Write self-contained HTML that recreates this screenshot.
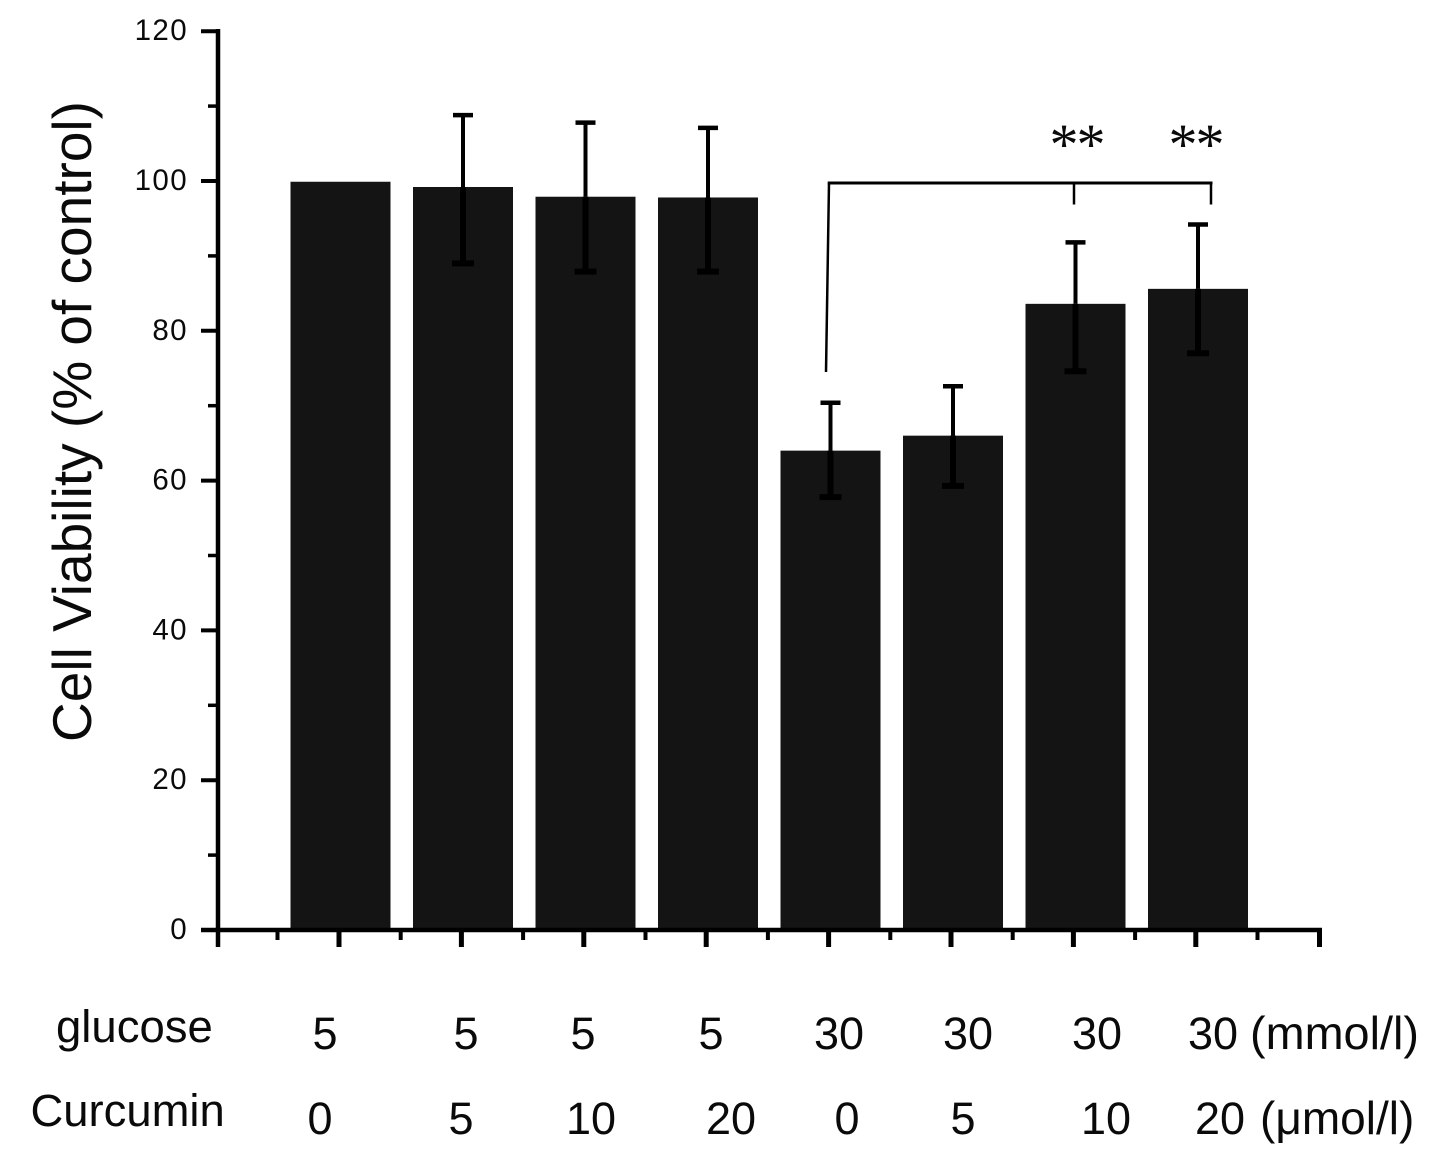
<!DOCTYPE html>
<html>
<head>
<meta charset="utf-8">
<style>
html,body{margin:0;padding:0;background:#fff;}
svg{display:block;}
text{font-family:"Liberation Sans",sans-serif;fill:#0a0a0a;}
</style>
</head>
<body>
<svg id="chart" width="1441" height="1160" viewBox="0 0 1441 1160" xmlns="http://www.w3.org/2000/svg">
<text transform="translate(91,421.5) rotate(-90)" text-anchor="middle" font-size="55">Cell Viability (% of control)</text>

<text x="56" y="1042" font-size="45.5">glucose</text>
<text x="30.5" y="1126" font-size="45.4">Curcumin</text>

<g font-size="45" text-anchor="middle">
<text x="325" y="1049">5</text>
<text x="466" y="1049">5</text>
<text x="583" y="1049">5</text>
<text x="711" y="1049">5</text>
<text x="839" y="1049">30</text>
<text x="968" y="1049">30</text>
<text x="1097" y="1049">30</text>
<text x="1213" y="1049">30</text>
</g>
<g font-size="45" text-anchor="middle">
<text x="320" y="1134">0</text>
<text x="461" y="1134">5</text>
<text x="591" y="1134">10</text>
<text x="731" y="1134">20</text>
<text x="847" y="1134">0</text>
<text x="963" y="1134">5</text>
<text x="1106" y="1134">10</text>
<text x="1220" y="1134">20</text>
</g>
<text x="1250" y="1049" font-size="46.8">(mmol/l)</text>
<text x="1260" y="1134" font-size="46">(μmol/l)</text>

<text x="1076.5" y="164" text-anchor="middle" font-size="58" letter-spacing="-2" style="font-family:'Liberation Serif',serif">**</text>
<text x="1195.5" y="164" text-anchor="middle" font-size="58" letter-spacing="-2" style="font-family:'Liberation Serif',serif">**</text>
</svg>
<script>
var categories = ['5/0', '5/5', '5/10', '5/20', '30/0', '30/5', '30/10', '30/20'];
var viability = [99.9, 99.2, 97.9, 97.8, 64, 66, 83.6, 85.6];
var errorHigh = [null, 108.8, 107.8, 107.1, 70.4, 72.6, 91.8, 94.2];
var errorLow = [null, 89, 87.9, 87.9, 57.8, 59.3, 74.6, 77];
var yTicks = [0, 20, 40, 60, 80, 100, 120];
var yMinorTicks = [10, 30, 50, 70, 90, 110];

var svg = document.getElementById('chart');
var NS = 'http://www.w3.org/2000/svg';
var barW = 100;

function yScale(v) { return 930 - v * 7.49; }
function xScale(i) { return 340.5 + i * 122.5; }
function tickPos(i) { return 339 + i * 122.4; }
function add(tag, attrs) {
  var el = document.createElementNS(NS, tag);
  for (var k in attrs) { el.setAttribute(k, attrs[k]); }
  svg.appendChild(el);
  return el;
}
function line(x1, y1, x2, y2, w, color) {
  return add('line', {x1: x1, y1: y1, x2: x2, y2: y2, stroke: color || '#000', 'stroke-width': w});
}

viability.forEach(function (v, i) {
  var cx = xScale(i);
  var bar = add('rect', {x: cx - barW / 2, y: yScale(v), width: barW, height: yScale(0) - yScale(v), fill: '#141414'});
  
  
  if (errorHigh[i] !== null) {
    var top = yScale(errorHigh[i]);
    var bottom = yScale(errorLow[i]);
    var stemUp = line(cx, top, cx, yScale(v), 4);
    
    
    var stemDown = line(cx, yScale(v), cx, bottom, 6);
    
    
    var capTop = line(cx - 10, top, cx + 10, top, 4.5);
    
    
    var capBottom = line(cx - 11, bottom, cx + 11, bottom, 6);
    
    
  }
});

var yAxis = line(218, 29, 218, 947, 4.5);


var xAxis = line(201, 930, 1322, 930, 4.5);



yTicks.forEach(function (v) {
  var t = line(201, yScale(v), 218, yScale(v), 4);
  
  
  var lab = add('text', {x: 188, y: yScale(v) + 9, 'text-anchor': 'end', 'font-size': 29.5, 'letter-spacing': 1.4});
  lab.textContent = v;
  
  
});
yMinorTicks.forEach(function (v) {
  var t = line(208, yScale(v), 218, yScale(v), 3.5);
  
  
});

categories.forEach(function (c, i) {
  var t = line(tickPos(i), 930, tickPos(i), 947, 5);
  
  
  var m = line(tickPos(i) + 61.7, 930, tickPos(i) + 61.7, 940, 4);
  
  
});
var mFirst = line(277.5, 930, 277.5, 940, 4);


var tEnd = line(1319.5, 928, 1319.5, 947, 5);



var b1 = line(826, 372, 829, 183, 2.5);


var b2 = line(827.7, 183, 1212.5, 183, 3);


var b3 = line(1074, 183, 1074, 204.5, 2.5);


var b4 = line(1211, 183, 1211, 204.5, 2.5);


</script>
</body>
</html>
